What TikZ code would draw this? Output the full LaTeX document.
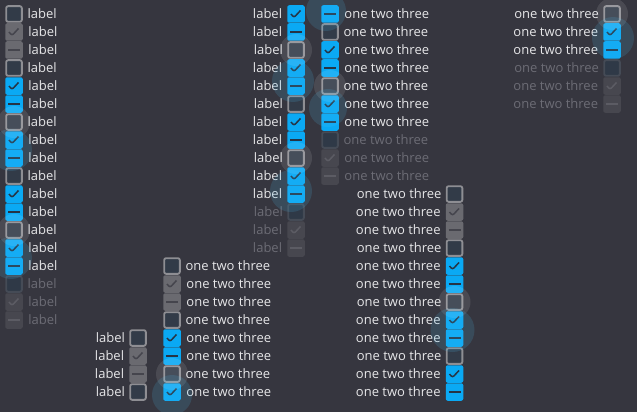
\documentclass[tikz,border=0pt]{standalone}
\usepackage{fontspec}
\setmainfont{Open Sans}
\usepackage{xcolor}
\definecolor{36363f}{HTML}{36363F}
\definecolor{e6e6e8}{HTML}{E6E6E8}
\definecolor{6c6c75}{HTML}{6C6C75}
\definecolor{8e8e93}{HTML}{8E8E93}
\definecolor{323b48}{HTML}{323B48}
\definecolor{6a6a70}{HTML}{6A6A70}
\definecolor{45454d}{HTML}{45454D}
\definecolor{0aa9f4}{HTML}{0AA9F4}
\definecolor{263445}{HTML}{263445}
\definecolor{454b56}{HTML}{454B56}
\definecolor{2f3947}{HTML}{2F3947}
\definecolor{47474f}{HTML}{47474F}
\definecolor{5c5c64}{HTML}{5C5C64}
\definecolor{4fc3f7}{HTML}{4FC3F7}
\usepackage{tikz}
\usetikzlibrary{positioning}

\begin{document}
\begin{tikzpicture}[x=1pt, y=-1pt,
        every node/.style={font=\fontsize{13}{15}\selectfont},
        cbox/.style={minimum size=17.5pt, inner sep=0pt, outer sep=0pt, rounded corners=2pt},
        tickmark/.style={path picture={\draw[#1, line width=1.5pt, line join=round]
            ([shift={(-5pt,0pt)}]path picture bounding box.center) -- ++(3pt,-3.5pt) -- ++(6.5pt,7pt);}},
        barmark/.style={path picture={\draw[#1, line width=2pt]
            ([xshift=-6pt]path picture bounding box.center) -- ++(12pt,0pt);}},
        boxoff/.style={cbox, minimum size=15.7pt, draw=8e8e93, line width=1.8pt, fill=323b48},
        boxgrayon/.style={cbox, fill=6a6a70, tickmark=45454d},
        boxgraymid/.style={cbox, fill=6a6a70, barmark=45454d},
        boxon/.style={cbox, fill=0aa9f4, tickmark=263445},
        boxmid/.style={cbox, fill=0aa9f4, barmark=263445},
        boxdimoff/.style={cbox, minimum size=15.7pt, draw=454b56, line width=1.8pt, fill=2f3947},
        boxdimon/.style={cbox, fill=47474f, tickmark=5c5c64},
        boxdimmid/.style={cbox, fill=47474f, barmark=5c5c64},
        lbl/.style={text=e6e6e8, inner sep=0pt},
        dimlbl/.style={text=6c6c75, inner sep=0pt},
        hover/.style={fill=white, fill opacity=.1},
        ripple/.style={fill=4fc3f7, fill opacity=.15}]

    \useasboundingbox[fill=36363f] (0, 0) rectangle (637, 412);

    % left column
    \foreach \s [count=\i] in {boxoff,boxgrayon,boxgraymid,boxoff,boxon,boxmid,boxoff,boxon,boxmid,
                               boxoff,boxon,boxmid,boxoff,boxon,boxmid,boxdimoff,boxdimon,boxdimmid}
        \node[\s] (a\i) at (14, {14+18*(\i-1)}) {};
    \foreach \i in {1,...,15}
        \node[lbl, right=5.5pt of a\i] (la\i) {label};
    \foreach \i in {16,17,18}
        \node[dimlbl, right=5.5pt of a\i] (la\i) {label};

    \foreach \s [count=\i] in {boxon,boxmid,boxoff,boxon,boxmid,boxoff,boxon,boxmid,boxoff,
                               boxon,boxmid,boxdimoff,boxdimon,boxdimmid}
        \node[\s] (b\i) at (296, {14+18*(\i-1)}) {};
    \foreach \i in {1,...,11}
        \node[lbl, left=5pt of b\i] (lb\i) {label};
    \foreach \i in {12,13,14}
        \node[dimlbl, left=5pt of b\i] (lb\i) {label};

    \foreach \s [count=\i] in {boxmid,boxoff,boxon,boxmid,boxoff,boxon,boxmid,boxdimoff,boxdimon,boxdimmid}
        \node[\s] (c\i) at (330, {14+18*(\i-1)}) {};
    \foreach \i in {1,...,7}
        \node[lbl, right=5.5pt of c\i] (lc\i) {one two three};
    \foreach \i in {8,9,10}
        \node[dimlbl, right=5.5pt of c\i] (lc\i) {one two three};

    \foreach \s [count=\i] in {boxoff,boxgrayon,boxgraymid,boxoff,boxon,boxmid,
                               boxoff,boxon,boxmid,boxoff,boxon,boxmid}
        \node[\s] (d\i) at (454.5, {194+18*(\i-1)}) {};
    \foreach \i in {1,...,12}
        \node[lbl, left=5pt of d\i] (ld\i) {one two three};

    \foreach \s [count=\i] in {boxoff,boxgrayon,boxgraymid,boxoff,boxon,boxmid,boxoff,boxon}
        \node[\s] (e\i) at (172, {266+18*(\i-1)}) {};
    \foreach \i in {1,...,8}
        \node[lbl, right=5.5pt of e\i] (le\i) {one two three};

    \foreach \s [count=\i] in {boxoff,boxgrayon,boxgraymid,boxoff}
        \node[\s] (f\i) at (138, {338+18*(\i-1)}) {};
    \foreach \i in {1,...,4}
        \node[lbl, left=5pt of f\i] (lf\i) {label};

    \foreach \s [count=\i] in {boxoff,boxon,boxmid,boxdimoff,boxdimon,boxdimmid}
        \node[\s] (g\i) at (612, {14+18*(\i-1)}) {};
    \foreach \i in {1,2,3}
        \node[lbl, left=5pt of g\i] (lg\i) {one two three};
    \foreach \i in {4,5,6}
        \node[dimlbl, left=5pt of g\i] (lg\i) {one two three};

    % hover and press halos
    \foreach \n in {a7,a13,b3,b9,c5,d7,e7,g1}
        \fill[hover] (\n) circle (16pt);
    \fill[ripple] ([shift={(-3,10)}]a8.center) circle (21pt);
    \fill[ripple] ([shift={(-3,10)}]a14.center) circle (21pt);
    \fill[ripple] ([shift={(-3,13)}]b4.center) circle (21pt);
    \fill[ripple] ([shift={(-5,15)}]b10.center) circle (21pt);
    \fill[ripple] ([shift={(-4,-3)}]c1.center) circle (20pt);
    \fill[ripple] ([shift={(-2,4)}]c6.center) circle (19pt);
    \fill[ripple] ([shift={(-2,10)}]d8.center) circle (22pt);
    \fill[ripple] ([shift={(0,3)}]e8.center) circle (20pt);
    \fill[ripple] ([shift={(1,6)}]g2.center) circle (21pt);
\end{tikzpicture}
\end{document}
